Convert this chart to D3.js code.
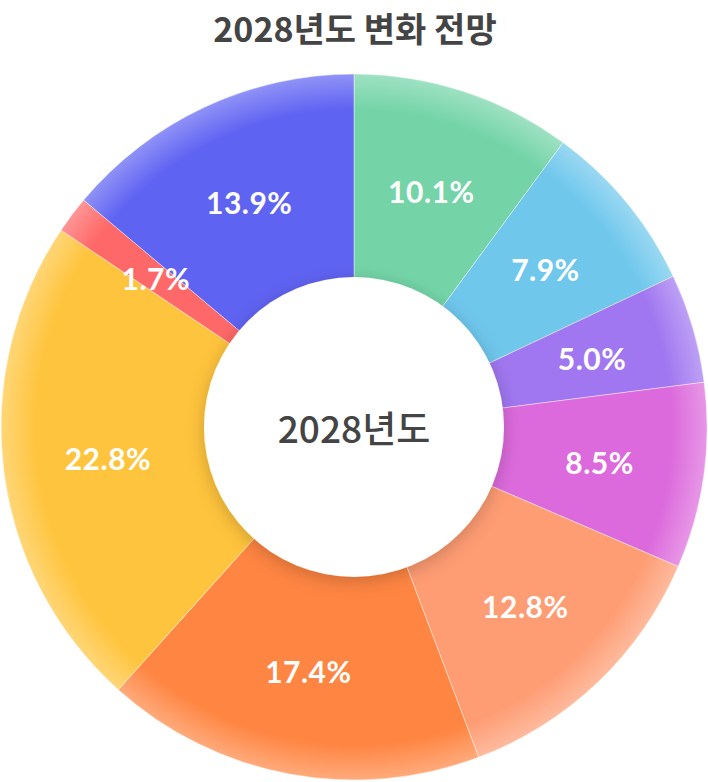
<!DOCTYPE html>
<html>
<head>
<meta charset="utf-8">
<script src="https://cdn.jsdelivr.net/npm/d3@7"></script>
<style>
  html, body { margin: 0; padding: 0; background: #fff; }
  svg { display: block; }
</style>
</head>
<body>
<svg id="chart" width="708" height="782"></svg>
<script>
const title = "2028년도 변화 전망";
const centerLabel = "2028년도";
const values = [10.1, 7.9, 5.0, 8.5, 12.8, 17.4, 22.8, 1.7, 13.9];
const valueLabels = ["10.1%", "7.9%", "5.0%", "8.5%", "12.8%", "17.4%", "22.8%", "1.7%", "13.9%"];
const colors = ["#74D4A8", "#6FC7EC", "#A077F0", "#DC6ADC", "#FE9C73", "#FF8542", "#FFC43D", "#FF6868", "#5F63F2"];

const W = 708, H = 782;
const cx = 354, cy = 427;
const R = 353, rHole = 150;

const svg = d3.select("#chart");
const defs = svg.append("defs");

const shadow = defs.append("filter").attr("id", "holeShadow")
  .attr("x", "-30%").attr("y", "-30%").attr("width", "160%").attr("height", "160%");
shadow.append("feDropShadow").attr("dx", 0).attr("dy", 4)
  .attr("stdDeviation", 9).attr("flood-color", "#000").attr("flood-opacity", 0.2);

colors.forEach((c, i) => {
  const g = defs.append("radialGradient").attr("id", "grad" + i)
    .attr("gradientUnits", "userSpaceOnUse").attr("cx", 0).attr("cy", 0).attr("r", R);
  const light = d3.interpolateRgb(c, "#ffffff")(0.3);
  g.append("stop").attr("offset", 0).attr("stop-color", c);
  g.append("stop").attr("offset", 0.9).attr("stop-color", c);
  g.append("stop").attr("offset", 1).attr("stop-color", light);
});

svg.append("text")
  .attr("x", W / 2 + 1).attr("y", 27)
  .attr("text-anchor", "middle").attr("dominant-baseline", "central")
  .attr("font-family", "'Noto Sans CJK KR', 'Noto Sans', sans-serif")
  .attr("font-size", 34).attr("font-weight", 700).attr("fill", "#444")
  .text(title);

const g = svg.append("g").attr("transform", `translate(${cx},${cy})`);

const pie = d3.pie().sort(null).value(d => d).startAngle(0).endAngle(2 * Math.PI);
const arcs = pie(values);
const arc = d3.arc().innerRadius(rHole - 10).outerRadius(R);
const labelArc = d3.arc().innerRadius(248).outerRadius(248);

g.selectAll("path.slice").data(arcs).join("path")
  .attr("class", "slice")
  .attr("d", arc)
  .attr("fill", (d, i) => `url(#grad${i})`)
  .attr("stroke", "#fff").attr("stroke-width", 0.6).attr("stroke-opacity", 0.7);

g.append("circle").attr("r", rHole).attr("fill", "#fff").attr("filter", "url(#holeShadow)");

g.append("text")
  .attr("x", 0).attr("y", 0)
  .attr("text-anchor", "middle").attr("dominant-baseline", "central")
  .attr("font-family", "'Noto Sans CJK KR', 'Noto Sans', sans-serif")
  .attr("font-size", 37).attr("font-weight", 500).attr("fill", "#444")
  .text(centerLabel);

g.selectAll("text.val").data(arcs).join("text")
  .attr("class", "val")
  .attr("transform", d => `translate(${labelArc.centroid(d)})`)
  .attr("text-anchor", "middle").attr("dominant-baseline", "central")
  .attr("font-family", "Lato, 'Noto Sans', sans-serif")
  .attr("font-size", 30).attr("font-weight", 700).attr("fill", "#fff")
  .attr("letter-spacing", 0.5)
  .text((d, i) => valueLabels[i]);
</script>
</body>
</html>
